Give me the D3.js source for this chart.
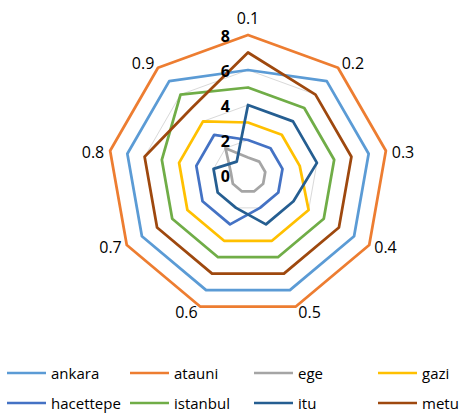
<!DOCTYPE html>
<html>
<head>
<meta charset="utf-8">
<script src="https://cdn.jsdelivr.net/npm/d3@7"></script>
<style>
  html, body { margin: 0; padding: 0; background: #fff; }
  svg { display: block; font-family: "Open Sans", "Liberation Sans", sans-serif; }
</style>
</head>
<body>
<svg id="chart" width="468" height="415"></svg>
<script>
// ---- data ----
const categories = ["0.1", "0.2", "0.3", "0.4", "0.5", "0.6", "0.7", "0.8", "0.9"];
const seriesNames = ["ankara", "atauni", "ege", "gazi", "hacettepe", "istanbul", "itu", "metu"];
const ankara    = [6, 7, 7, 7, 7, 7, 7, 7, 7];
const atauni    = [8, 8, 8, 8, 8, 8, 8, 8, 8];
const ege       = [1, 1, 1, 1, 1, 1, 1, 1, 2];
const gazi      = [3, 3, 3, 4, 4, 4, 4, 4, 4];
const hacettepe = [2, 2, 2, 2, 2, 3, 3, 3, 3];
const istanbul  = [5, 5, 5, 5, 5, 5, 5, 5, 6];
const itu       = [4, 4, 4, 3, 3, 2, 2, 2, 1];
const metu      = [7, 6, 6, 6, 6, 6, 6, 6, 5];
const tickValues = [0, 2, 4, 6, 8];
const seriesColors = ["#5B9BD5", "#ED7D31", "#A5A5A5", "#FFC000", "#4472C4", "#70AD47", "#255E91", "#9E480E"];

const seriesValues = [ankara, atauni, ege, gazi, hacettepe, istanbul, itu, metu];
const series = seriesNames.map((name, i) => ({ name, values: seriesValues[i], color: seriesColors[i] }));

// ---- layout ----
const svg = d3.select("#chart");
const cx = 248, cy = 175, R = 140;
const r = d3.scaleLinear().domain([0, 8]).range([0, R]);
const angle = d3.scaleLinear().domain([0, categories.length]).range([0, 2 * Math.PI]);

const g = svg.append("g").attr("transform", `translate(${cx},${cy})`);

const radial = d3.lineRadial()
  .angle((d, i) => angle(i))
  .radius(d => r(d))
  .curve(d3.curveLinearClosed);

// gridlines (regular polygons)
g.append("g").selectAll("path")
  .data(tickValues.filter(v => v > 0))
  .join("path")
  .attr("d", v => radial(categories.map(() => v)))
  .attr("fill", "none")
  .attr("stroke", "#D9D9D9")
  .attr("stroke-width", 1);

// series
g.append("g").selectAll("path")
  .data(series)
  .join("path")
  .attr("d", s => radial(s.values))
  .attr("fill", "none")
  .attr("stroke", s => s.color)
  .attr("stroke-width", 2.75)
  .attr("stroke-linejoin", "round");

// value tick labels
g.append("g").selectAll("text")
  .data(tickValues)
  .join("text")
  .attr("x", -18)
  .attr("y", v => -r(v) + 1)
  .attr("text-anchor", "end")
  .attr("dominant-baseline", "central")
  .attr("font-size", 16)
  .attr("font-weight", "bold")
  .attr("fill", "#000")
  .text(v => v);

// category labels
g.append("g").selectAll("text")
  .data(categories)
  .join("text")
  .each(function (c, i) {
    const a = angle(i);
    const s = Math.sin(a), co = Math.cos(a);
    const tx = R * s, ty = -R * co;
    let anchor = "middle", x = tx;
    if (s > 0.1) { anchor = "start"; x = tx + 2 + 4 * s * s; }
    else if (s < -0.1) { anchor = "end"; x = tx - 2 - 4 * s * s; }
    let dy;
    if (co > 0.9) dy = -17.5;
    else if (co > 0.5) dy = -5;
    else if (co > -0.6) dy = 1.5;
    else dy = 5;
    d3.select(this)
      .attr("x", x)
      .attr("y", ty + dy)
      .attr("text-anchor", anchor)
      .attr("dominant-baseline", "central");
  })
  .attr("font-size", 16)
  .attr("fill", "#000")
  .text(c => c);

// legend
const colX = [7, 130, 254, 378];
const rowY = [373, 403];
const legend = svg.append("g").selectAll("g")
  .data(series)
  .join("g")
  .attr("transform", (s, i) => `translate(${colX[i % 4]},${rowY[Math.floor(i / 4)]})`);
legend.append("line")
  .attr("x1", 0).attr("x2", 39).attr("y1", 0).attr("y2", 0)
  .attr("stroke", s => s.color)
  .attr("stroke-width", 2.5);
legend.append("text")
  .attr("x", 44)
  .attr("y", 0)
  .attr("dominant-baseline", "central")
  .attr("font-size", 15)
  .attr("fill", "#000")
  .text(s => s.name);
</script>
</body>
</html>
